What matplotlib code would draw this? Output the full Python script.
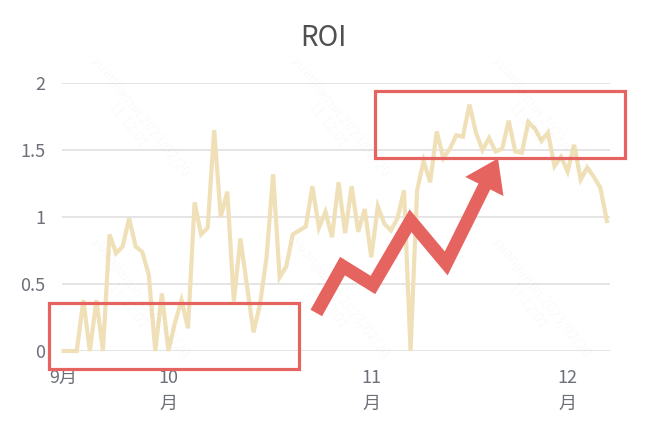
import numpy as np
import pandas as pd
import matplotlib
matplotlib.use('Agg')
import matplotlib.pyplot as plt
from matplotlib.patches import Rectangle, Polygon

plt.rcParams['font.family'] = ['Noto Sans CJK SC', 'DejaVu Sans']

# daily ROI, 2022-09-15 .. 2022-12-07
start_date = '2022-09-15'
roi = [0, 0, 0, 0.38, 0, 0.38, 0, 0.87, 0.73, 0.78,
       0.99, 0.78, 0.74, 0.57, 0, 0.43, 0, 0.21, 0.38, 0.17,
       1.11, 0.87, 0.92, 1.65, 1.0, 1.19, 0.37, 0.84, 0.49, 0.14,
       0.35, 0.7, 1.32, 0.55, 0.63, 0.87, 0.9, 0.93, 1.23, 0.92,
       1.04, 0.85, 1.26, 0.88, 1.23, 0.89, 1.06, 0.70, 1.08, 0.95,
       0.9, 0.99, 1.2, 0, 1.2, 1.42, 1.26, 1.64, 1.44, 1.51,
       1.61, 1.6, 1.84, 1.63, 1.5, 1.59, 1.49, 1.51, 1.72, 1.49,
       1.48, 1.71, 1.66, 1.57, 1.63, 1.38, 1.45, 1.34, 1.54, 1.28,
       1.37, 1.3, 1.22, 0.97]

y_ticks = [0, 0.5, 1, 1.5, 2]
y_tick_labels = ['0', '0.5', '1', '1.5', '2']
month_labels = ['9月', '10\n月', '11\n月', '12\n月']

# annotation overlays (data coords: day index, ROI)
low_box = (-2.25, -0.138, 38.2, 0.496)      # x, y, w, h
high_box = (47.5, 1.444, 38.2, 0.50)
arrow_path = [(38.6, 0.284), (42.6, 0.634), (47.25, 0.493), (53.0, 0.972),
              (58.45, 0.654), (64.6, 1.26)]
arrow_head = [(61.36, 1.30), (66.36, 1.438), (67.2, 1.157)]

line_color = '#f0e0b8'
red = '#e6645f'
text_color = '#6e7079'


def main():
    dates = pd.date_range(start_date, periods=len(roi), freq='D')
    x = np.arange(len(roi))

    # tick at first day and at each month start
    tick_pos = [0] + [i for i, d in enumerate(dates) if d.day == 1]

    fig = plt.figure(figsize=(6.68, 4.32), dpi=100)
    ax = fig.add_axes([0.0924, 0.1875, 0.821, 0.620])

    # faint watermark (kept inside the canvas)
    for wx in [0.2, 0.5, 0.8]:
        for wy in [0.3, 0.72]:
            fig.text(wx, wy, 'yuanjiamin 2023/02/20\n11:12:01', rotation=-52,
                     fontsize=10, color='#000000', alpha=0.022,
                     ha='center', va='center', zorder=0)

    ax.plot(x, roi, color=line_color, lw=3.0, solid_joinstyle='miter',
            clip_on=False, zorder=3)

    ax.set_xlim(-0.3, 83.5)
    ax.set_ylim(0, 2)
    ax.set_yticks(y_ticks)
    ax.set_yticklabels(y_tick_labels)
    ax.set_xticks(tick_pos)
    ax.set_xticklabels(month_labels, linespacing=1.55)
    ax.tick_params(axis='y', length=0, pad=12, labelsize=13, labelcolor=text_color)
    ax.tick_params(axis='x', length=0, pad=13, labelsize=13, labelcolor=text_color)

    ax.grid(axis='y', color='#e0e0e0', lw=1.2)
    ax.set_axisbelow(True)
    for s in ax.spines.values():
        s.set_visible(False)

    fig.text(0.4835, 1 - 38 / 432, 'ROI', fontsize=20, color='#505050',
             fontweight='light', ha='center', va='center')

    # red highlight boxes
    for bx, by, bw, bh in [low_box, high_box]:
        ax.add_patch(Rectangle((bx, by), bw, bh, fill=False, edgecolor=red,
                               lw=2.3, clip_on=False, zorder=5))

    # zigzag arrow
    ax.plot([p[0] for p in arrow_path], [p[1] for p in arrow_path], color=red,
            lw=9.5, solid_joinstyle='miter', solid_capstyle='butt',
            clip_on=False, zorder=4)
    ax.add_patch(Polygon(arrow_head, closed=True, facecolor=red,
                         edgecolor='none', clip_on=False, zorder=4))

    fig.savefig('out.png', dpi=100)


if __name__ == '__main__':
    main()
